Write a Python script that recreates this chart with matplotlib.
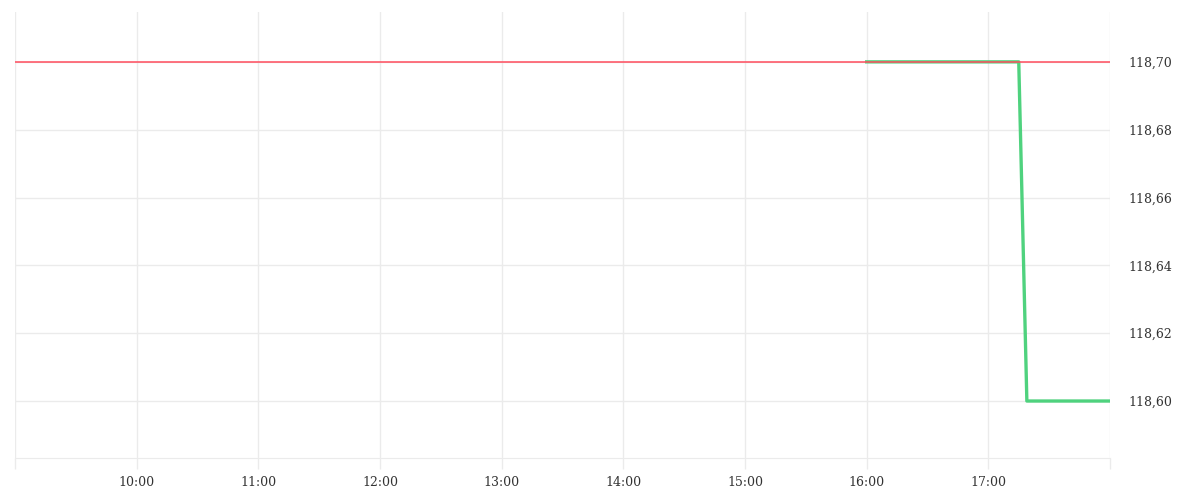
import matplotlib
matplotlib.use('Agg')
from matplotlib import pyplot as plt
import matplotlib.dates as mdates
from matplotlib.ticker import FuncFormatter
from datetime import datetime

# data
times = ['16:00', '17:15', '17:19', '18:00']
prices = [118.70, 118.70, 118.60, 118.60]
ref_price = 118.70
y_ticks = [118.60, 118.62, 118.64, 118.66, 118.68, 118.70]
x_start, x_end = '09:00', '18:00'

day = '2024-01-02 '
def to_dt(t):
    return datetime.strptime(day + t, '%Y-%m-%d %H:%M')

plt.rcParams['font.family'] = ['DejaVu Serif']
grid_c = '#ebebeb'

fig = plt.figure(figsize=(12, 5), dpi=100)
ax = fig.add_axes([0.0125, 0.084, 0.9125, 0.892])

x = [to_dt(t) for t in times]
ax.plot(x, prices, color='#4fd27e', linewidth=2.4, zorder=3)
ax.axhline(ref_price, color='#ff4d5e', linewidth=1.1, zorder=4)

ax.set_xlim(to_dt(x_start), to_dt(x_end))
ax.set_ylim(118.5832, 118.7147)

ax.xaxis.set_major_locator(mdates.HourLocator())
ax.xaxis.set_major_formatter(mdates.DateFormatter('%H:%M'))
ax.set_yticks(y_ticks)
ax.yaxis.set_major_formatter(FuncFormatter(lambda v, p: ('%.2f' % v).replace('.', ',')))
ax.yaxis.tick_right()

for s in ['top', 'left', 'right']:
    ax.spines[s].set_visible(False)
ax.spines['bottom'].set_color(grid_c)

ax.grid(True, color=grid_c, linewidth=1)
ax.tick_params(axis='x', length=8, color=grid_c, width=1, pad=5, labelsize=9, labelcolor='#333333')
ax.tick_params(axis='y', length=0, pad=13, labelsize=9, labelcolor='#333333')

# hide labels at the x edges (9:00 and 18:00)
fig.canvas.draw()
for lab in ax.get_xticklabels():
    if lab.get_text() in ('09:00', '18:00'):
        lab.set_visible(False)

plt.savefig('out.png')
